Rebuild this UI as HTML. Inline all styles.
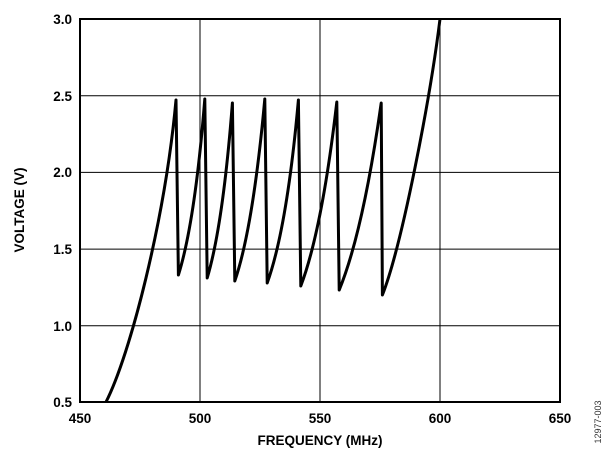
<!DOCTYPE html>
<html><head><style>body{margin:0;background:#fff}svg{display:block}</style></head><body>
<svg width="612" height="459" xmlns="http://www.w3.org/2000/svg" font-family="Liberation Sans, Arial, sans-serif">
<g stroke="#000" stroke-width="1">
<line x1="200" y1="19" x2="200" y2="402"/><line x1="320" y1="19" x2="320" y2="402"/><line x1="440" y1="19" x2="440" y2="402"/>
<line x1="80" y1="95.7" x2="560" y2="95.7"/><line x1="80" y1="172.4" x2="560" y2="172.4"/><line x1="80" y1="249.1" x2="560" y2="249.1"/><line x1="80" y1="325.8" x2="560" y2="325.8"/>
</g>
<rect x="80" y="19" width="480" height="383" fill="none" stroke="#000" stroke-width="2"/>
<path fill="none" stroke="#000" stroke-width="3" stroke-linejoin="round" d="M106,402 C130,355 165,220 176,100 L178.4,275 Q195,222 204.8,99 L207.2,278 Q223,225 232.4,103 L234.8,281 Q253,228 264.8,99 L267.2,283 Q287,228 298.4,100 L300.8,286 Q322,230 336.8,102 L339.2,290 Q363,232 381.2,103 L382.4,295 C402,245 430,100 440,19"/>
<g font-size="13.5" font-weight="bold" text-anchor="end">
<text x="72" y="24">3.0</text><text x="72" y="101">2.5</text><text x="72" y="177">2.0</text><text x="72" y="254">1.5</text><text x="72" y="331">1.0</text><text x="72" y="407">0.5</text>
</g>
<g font-size="13.5" font-weight="bold" text-anchor="middle">
<text x="80" y="423">450</text><text x="200" y="423">500</text><text x="320" y="423">550</text><text x="440" y="423">600</text><text x="560" y="423">650</text>
<text x="320" y="445">FREQUENCY (MHz)</text>
<text transform="translate(24,210) rotate(-90)">VOLTAGE (V)</text>
</g>
<text transform="translate(601,422) rotate(-90)" font-size="9" fill="#333" text-anchor="middle">12977-003</text>
</svg>
</body></html>
